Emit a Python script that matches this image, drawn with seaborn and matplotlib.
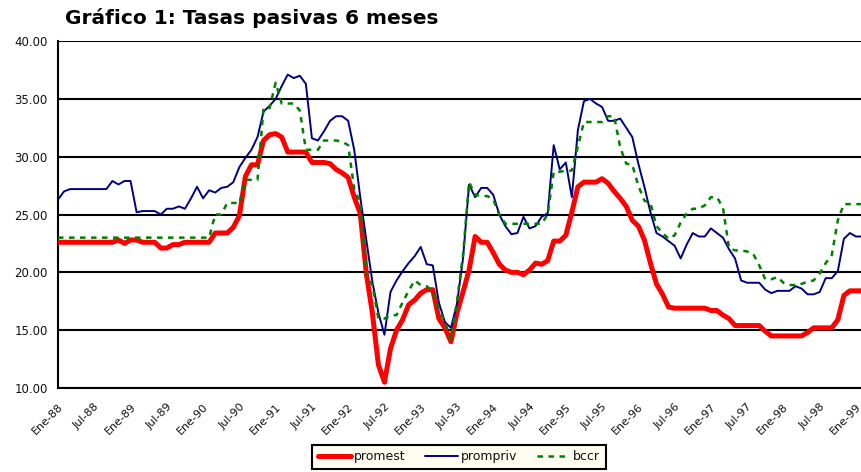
import pandas as pd
import numpy as np
import matplotlib
matplotlib.use("Agg")
import matplotlib.pyplot as plt
import seaborn as sns

# Datos mensuales, Ene-88 a Feb-99 (una fila por año)
promest = [
    22.6, 22.6, 22.6, 22.6, 22.6, 22.6, 22.6, 22.6, 22.6, 22.6, 22.8, 22.5,  # 1988
    22.8, 22.8, 22.6, 22.6, 22.6, 22.1, 22.1, 22.4, 22.4, 22.6, 22.6, 22.6,  # 1989
    22.6, 22.6, 23.4, 23.4, 23.4, 23.9, 24.9, 28.3, 29.3, 29.3, 31.4, 31.9,  # 1990
    32.0, 31.7, 30.4, 30.4, 30.4, 30.4, 29.5, 29.5, 29.5, 29.4, 28.9, 28.6,  # 1991
    28.2, 26.5, 25.1, 19.9, 16.5, 12.0, 10.5, 13.4, 15.0, 15.9, 17.2, 17.6,  # 1992
    18.2, 18.5, 18.5, 16.0, 15.2, 14.0, 16.5, 18.3, 20.2, 23.1, 22.6, 22.6,  # 1993
    21.7, 20.7, 20.2, 20.0, 20.0, 19.8, 20.2, 20.8, 20.7, 21.0, 22.7, 22.7,  # 1994
    23.2, 25.2, 27.4, 27.8, 27.8, 27.8, 28.1, 27.7, 27.0, 26.4, 25.7, 24.5,  # 1995
    24.0, 22.8, 20.8, 19.0, 18.1, 17.0, 16.9, 16.9, 16.9, 16.9, 16.9, 16.9,  # 1996
    16.7, 16.7, 16.3, 16.0, 15.4, 15.4, 15.4, 15.4, 15.4, 14.9, 14.5, 14.5,  # 1997
    14.5, 14.5, 14.5, 14.5, 14.8, 15.2, 15.2, 15.2, 15.2, 15.9, 18.0, 18.4,  # 1998
    18.4, 18.4,                                                              # 1999
]
prompriv = [
    26.3, 27.0, 27.2, 27.2, 27.2, 27.2, 27.2, 27.2, 27.2, 27.9, 27.6, 27.9,
    27.9, 25.2, 25.3, 25.3, 25.3, 25.0, 25.5, 25.5, 25.7, 25.5, 26.4, 27.4,
    26.4, 27.1, 26.9, 27.3, 27.4, 27.8, 29.1, 29.9, 30.6, 31.7, 33.9, 34.4,
    35.0, 36.1, 37.1, 36.8, 37.0, 36.3, 31.6, 31.4, 32.2, 33.1, 33.5, 33.5,
    33.1, 30.6, 26.5, 22.8, 19.2, 16.5, 14.6, 18.3, 19.3, 20.1, 20.8, 21.4,
    22.2, 20.7, 20.6, 17.4, 15.7, 15.2, 17.3, 21.2, 27.6, 26.5, 27.3, 27.3,
    26.7, 25.0, 24.0, 23.3, 23.4, 24.8, 23.8, 24.0, 24.8, 25.1, 31.0, 28.9,
    29.5, 26.5, 32.3, 34.8, 35.0, 34.6, 34.3, 33.1, 33.1, 33.3, 32.5, 31.7,
    29.4, 27.4, 25.2, 23.4, 23.1, 22.7, 22.3, 21.2, 22.4, 23.4, 23.1, 23.1,
    23.8, 23.4, 23.0, 22.0, 21.2, 19.3, 19.1, 19.1, 19.1, 18.5, 18.2, 18.4,
    18.4, 18.4, 18.8, 18.6, 18.1, 18.1, 18.3, 19.5, 19.5, 20.1, 22.9, 23.4,
    23.1, 23.1,
]
bccr = [
    23.0, 23.0, 23.0, 23.0, 23.0, 23.0, 23.0, 23.0, 23.0, 23.0, 23.0, 23.0,
    23.0, 23.0, 23.0, 23.0, 23.0, 23.0, 23.0, 23.0, 23.0, 23.0, 23.0, 23.0,
    23.0, 23.0, 25.0, 25.0, 26.0, 26.0, 26.0, 28.0, 28.0, 28.0, 34.2, 34.2,
    36.4, 34.6, 34.6, 34.6, 34.0, 30.6, 30.6, 30.6, 31.4, 31.4, 31.4, 31.3,
    31.0, 27.2, 26.0, 19.9, 18.9, 16.0, 16.0, 16.3, 16.3, 17.4, 18.4, 19.3,
    18.9, 18.8, 18.3, 16.8, 15.7, 14.2, 17.5, 21.5, 27.8, 26.7, 26.6, 26.6,
    26.3, 25.0, 24.2, 24.2, 24.2, 24.2, 24.2, 24.2, 24.2, 25.0, 28.7, 28.7,
    28.8, 28.8, 30.9, 33.0, 33.0, 33.0, 33.0, 33.5, 33.5, 30.8, 29.4, 29.3,
    27.5, 26.2, 26.0, 24.0, 23.4, 22.9, 23.2, 24.3, 25.1, 25.5, 25.5, 25.8,
    26.5, 26.5, 25.6, 22.1, 21.9, 21.9, 21.8, 21.6, 20.6, 19.4, 19.4, 19.6,
    19.1, 18.9, 18.9, 19.0, 19.2, 19.3, 19.9, 20.8, 21.5, 24.5, 25.9, 25.9,
    25.9, 25.9,
]

tick_labels = ['Ene-88', 'Jul-88', 'Ene-89', 'Jul-89', 'Ene-90', 'Jul-90',
               'Ene-91', 'Jul-91', 'Ene-92', 'Jul-92', 'Ene-93', 'Jul-93',
               'Ene-94', 'Jul-94', 'Ene-95', 'Jul-95', 'Ene-96', 'Jul-96',
               'Ene-97', 'Jul-97', 'Ene-98', 'Jul-98', 'Ene-99']
y_ticks = [10, 15, 20, 25, 30, 35, 40]

df = pd.DataFrame({'mes': np.arange(len(promest)),
                   'promest': promest, 'prompriv': prompriv, 'bccr': bccr})

sns.set_theme(style="white")
plt.rcParams['font.family'] = ['DejaVu Sans']
plt.rcParams['text.color'] = 'black'

fig = plt.figure(figsize=(8.62, 4.72), dpi=100)
ax = fig.add_axes([0.0673, 0.178, 0.9327, 0.735])

sns.lineplot(x='mes', y='promest', data=df, color='#FF0000', lw=3.6,
             label='promest', ax=ax, zorder=3)
sns.lineplot(x='mes', y='prompriv', data=df, color='#000080', lw=1.4,
             label='prompriv', ax=ax, zorder=4)
sns.lineplot(x='mes', y='bccr', data=df, color='#008000', lw=1.8,
             dashes=(2.2, 2.2), label='bccr', ax=ax, zorder=5)

ax.set_xlim(0, len(promest) - 1)
ax.set_ylim(10, 40)
ax.set_yticks(y_ticks)
ax.set_yticklabels([f"{v:.2f}" for v in y_ticks], fontsize=8.5)
ax.set_xticks(np.arange(0, 6 * len(tick_labels), 6))
ax.set_xticklabels(tick_labels, rotation=45, ha='right',
                   rotation_mode='anchor', fontsize=8)
ax.set_xlabel('')
ax.set_ylabel('')

ax.yaxis.grid(True, color='black', lw=1.5, zorder=1)
ax.xaxis.grid(False)
for s in ['top', 'right']:
    ax.spines[s].set_visible(False)
for s in ['left', 'bottom']:
    ax.spines[s].set_color('black')
    ax.spines[s].set_linewidth(1.5)
ax.tick_params(axis='both', direction='out', color='black', width=1.4,
               labelcolor='#111111')
ax.tick_params(axis='x', length=4, pad=6)
ax.tick_params(axis='y', length=3.5, pad=4)
ax.set_facecolor('white')

h, l = ax.get_legend_handles_labels()
ax.legend_.remove()
leg = fig.legend(h, l, loc='center', bbox_to_anchor=(0.5325, 0.032), ncol=3,
                 frameon=True, fancybox=False, edgecolor='black',
                 facecolor='#FFFCF0', framealpha=1, fontsize=9,
                 handlelength=2.6, handletextpad=0.25, columnspacing=1.6,
                 borderpad=0.45)
leg.get_frame().set_linewidth(1.5)
for t in leg.get_texts():
    t.set_color('#111111')

fig.text(0.0754, 0.962, 'Gráfico 1: Tasas pasivas 6 meses', fontsize=14.5,
         fontweight='bold', ha='left', va='center', color='black')

fig.savefig('out.png', dpi=100, facecolor='white')
